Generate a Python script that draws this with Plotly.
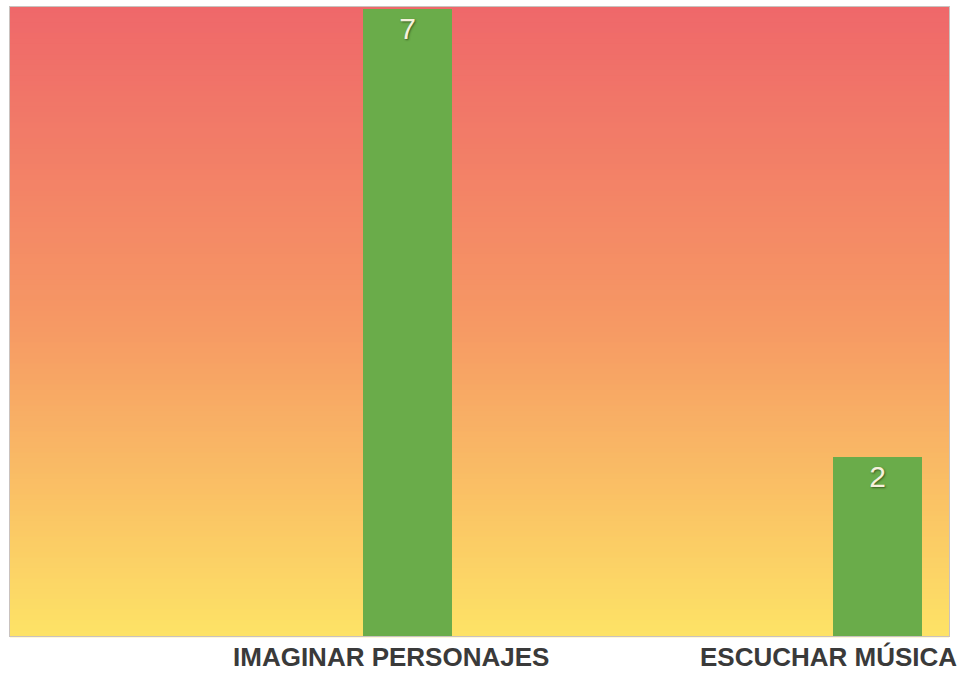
import plotly.graph_objects as go

# Chart data
categories = ["IMAGINAR PERSONAJES", "ESCUCHAR MÚSICA"]
values = [7, 2]
value_labels = ["7", "2"]

# Background gradient colour stops (position from top, rgb)
gradient_stops = [
    (0.0, (239, 104, 106)),
    (0.5, (246, 152, 100)),
    (1.0, (253, 226, 102)),
]
n_stripes = 120

bar_color = "#6aac4a"
label_color = "#3a3a3a"


def gradient_at(t):
    for (p0, c0), (p1, c1) in zip(gradient_stops[:-1], gradient_stops[1:]):
        if p0 <= t <= p1:
            f = (t - p0) / (p1 - p0)
            return tuple(round(a + (b - a) * f) for a, b in zip(c0, c1))
    return gradient_stops[-1][1]


fig = go.Figure()
fig.add_trace(go.Bar(
    x=categories,
    y=values,
    width=0.19,
    marker=dict(color=bar_color, line=dict(width=0)),
    text=value_labels,
    texttemplate="%{text}",
    textposition="inside",
    insidetextanchor="end",
    textangle=0,
    textfont=dict(family="Liberation Sans, Arial, sans-serif", size=30,
                  color="#f6f1dc", shadow="1px 1px 2px rgba(40,60,20,0.7)"),
    hoverinfo="skip",
))

# Vertical gradient behind the plot area, built from thin horizontal bands
shapes = []
for i in range(n_stripes):
    r, g, b = gradient_at(i / (n_stripes - 1))
    y1 = 1 - i / n_stripes
    y0 = 1 - (i + 1) / n_stripes
    shapes.append(dict(
        type="rect", xref="paper", yref="paper",
        x0=0, x1=1, y0=y0 - 0.002, y1=y1,
        fillcolor=f"rgb({r},{g},{b})", line=dict(width=0),
        layer="below",
    ))

# Category labels under the bars
label_shifts = [-16, -49]
annotations = []
for cat, dx in zip(categories, label_shifts):
    annotations.append(dict(
        x=cat, y=0, xref="x", yref="paper",
        text=f"<b>{cat}</b>", showarrow=False,
        xanchor="center", yanchor="middle",
        xshift=dx, yshift=-21,
        height=30, valign="middle", borderpad=0,
        font=dict(family="Liberation Sans, Arial, sans-serif", size=26, color=label_color),
    ))

fig.update_layout(
    width=963, height=673,
    margin=dict(l=10, r=14, t=7, b=37),
    paper_bgcolor="white",
    plot_bgcolor="rgba(0,0,0,0)",
    showlegend=False,
    shapes=shapes,
    annotations=annotations,
    bargap=0,
)
fig.update_xaxes(
    type="category",
    range=[-0.845, 1.152],
    showticklabels=False,
    ticks="",
    showgrid=False,
    zeroline=False,
    showline=True, mirror=True, linecolor="#c9c2bf", linewidth=1,
)
fig.update_yaxes(
    range=[0, 7.02],
    showticklabels=False,
    ticks="",
    showgrid=False,
    zeroline=False,
    showline=True, mirror=True, linecolor="#c9c2bf", linewidth=1,
)

fig.write_html("out.html")
